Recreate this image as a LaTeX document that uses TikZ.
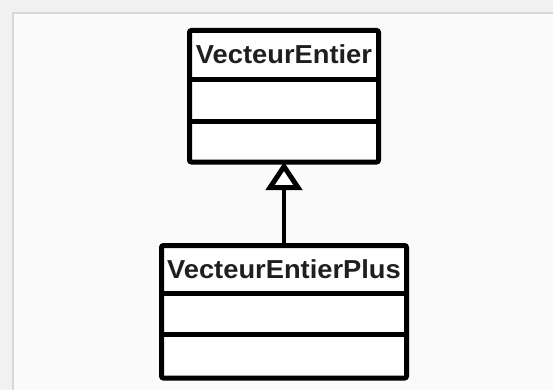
\documentclass[tikz,border=0pt]{standalone}
\usepackage{fontspec}
\setmainfont{Liberation Sans}
\newfontfamily\umlfont[FakeStretch=1.05]{Liberation Sans}
\usetikzlibrary{arrows.meta}
\definecolor{pagegray}{HTML}{F1F1F1}
\definecolor{panelgray}{HTML}{FAFAFA}
\definecolor{rulegray}{HTML}{D8D8D8}
\tikzset{
  classbox/.style={draw=black, fill=white, line width=5pt, rounded corners=2pt,
    inner sep=0pt, outer sep=0pt},
  classname/.style={font=\umlfont\fontsize{26}{30}\selectfont\bfseries, text=black!88, inner sep=0pt},
  compline/.style={line width=5pt},
  inherit/.style={line width=4pt,
    -{Triangle[open, length=28pt, width=36pt, line width=5pt, fill=white]}}
}
\begin{document}
\begin{tikzpicture}[x=1pt, y=-1pt]
  \useasboundingbox (0,0) rectangle (553,390);
  % Background
  \fill[pagegray] (0,0) rectangle (553,390);
  \fill[panelgray] (13,13) rectangle (553,390);
  \draw[rulegray, line width=2pt] (13,390) -- (13,13) -- (553,13);

  % Class VecteurEntier
  \node[classbox, minimum width=189pt, minimum height=131.5pt] (ve) at (284,96.25) {};
  \draw[compline] ([yshift=-49pt]ve.north west) -- ([yshift=-49pt]ve.north east);
  \draw[compline] ([yshift=-91pt]ve.north west) -- ([yshift=-91pt]ve.north east);
  \node[classname] (veName) at ([yshift=-24pt]ve.north) {VecteurEntier};

  % Class VecteurEntierPlus
  \node[classbox, minimum width=245pt, minimum height=132.5pt] (vep) at (284,311.75) {};
  \draw[compline] ([yshift=-48pt]vep.north west) -- ([yshift=-48pt]vep.north east);
  \draw[compline] ([yshift=-89pt]vep.north west) -- ([yshift=-89pt]vep.north east);
  \node[classname] (vepName) at ([yshift=-24pt]vep.north) {VecteurEntierPlus};

  % Inheritance
  \draw[inherit] (vep.north) -- (ve.south);
\end{tikzpicture}
\end{document}
